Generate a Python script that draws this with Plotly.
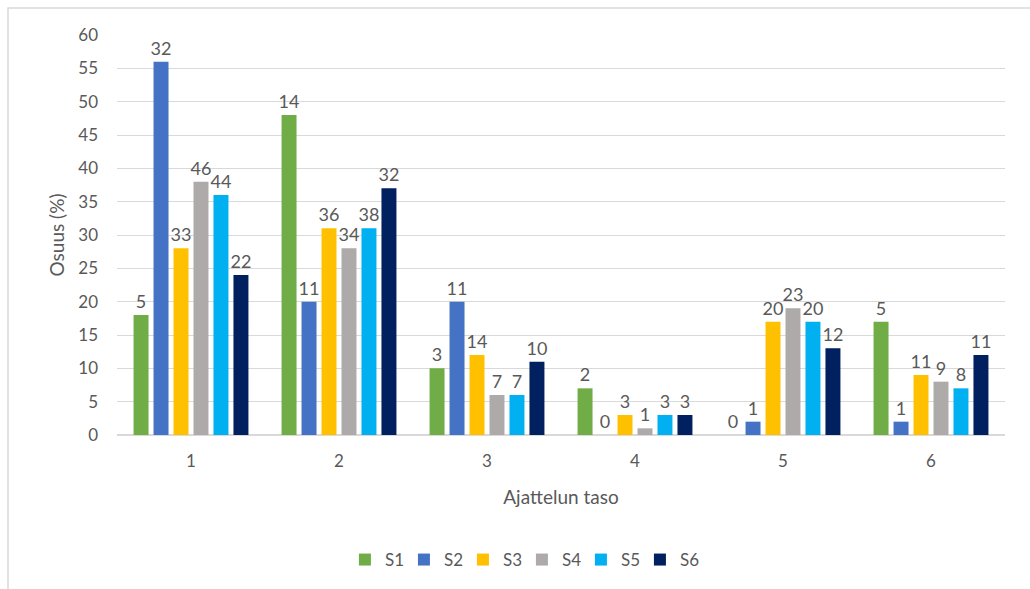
import plotly.graph_objects as go

# Ajattelun taso (level of thinking) categories
levels = ["1", "2", "3", "4", "5", "6"]
series_names = ["S1", "S2", "S3", "S4", "S5", "S6"]

# Share of answers per level (%), one list per series
share_s1 = [18, 48, 10, 7, 0, 17]
share_s2 = [56, 20, 20, 0, 2, 2]
share_s3 = [28, 31, 12, 3, 17, 9]
share_s4 = [38, 28, 6, 1, 19, 8]
share_s5 = [36, 31, 6, 3, 17, 7]
share_s6 = [24, 37, 11, 3, 13, 12]

# Number of answers per level, shown as bar labels
count_s1 = [5, 14, 3, 2, 0, 5]
count_s2 = [32, 11, 11, 0, 1, 1]
count_s3 = [33, 36, 14, 3, 20, 11]
count_s4 = [46, 34, 7, 1, 23, 9]
count_s5 = [44, 38, 7, 3, 20, 8]
count_s6 = [22, 32, 10, 3, 12, 11]

y_ticks = list(range(0, 61, 5))

shares = [share_s1, share_s2, share_s3, share_s4, share_s5, share_s6]
counts = [count_s1, count_s2, count_s3, count_s4, count_s5, count_s6]
colors = ["#70AD47", "#4472C4", "#FFC000", "#ADAAA9", "#00B0F0", "#002060"]

FONT = "Lato, 'Open Sans', sans-serif"
TEXT = "#595959"

fig = go.Figure()
for name, sh, cnt, col in zip(series_names, shares, counts, colors):
    fig.add_trace(go.Bar(
        name=name, x=levels, y=sh,
        text=[str(c) for c in cnt],
        textposition="outside",
        constraintext="none",
        cliponaxis=False,
        textfont=dict(family=FONT, size=18, color=TEXT),
        marker=dict(color=col, line=dict(width=0)),
    ))

W, H = 1030, 589
ml, mr, mt, mb = 117, 25, 35, 153
pw, ph = W - ml - mr, H - mt - mb

def px_to_paper_x(px):
    return (px - ml) / pw

def px_to_paper_y(py):
    return (H - mb - py) / ph

fig.update_layout(
    width=W, height=H,
    margin=dict(l=ml, r=mr, t=mt, b=mb),
    paper_bgcolor="white", plot_bgcolor="white",
    barmode="group", bargap=0.19, bargroupgap=0.25,
    font=dict(family=FONT, size=17, color=TEXT),
    showlegend=True,
    legend=dict(
        orientation="h",
        x=0.456, xanchor="center",
        y=px_to_paper_y(560), yanchor="middle",
        font=dict(family=FONT, size=17, color=TEXT),
        itemsizing="constant",
        entrywidth=14, entrywidthmode="pixels",
    ),
    xaxis=dict(
        type="category",
        showgrid=False, showline=False, ticks="",
        ticklabelstandoff=14,
        tickfont=dict(family=FONT, size=17, color=TEXT),
        title=dict(text="Ajattelun taso", font=dict(family=FONT, size=19, color=TEXT), standoff=20),
    ),
    yaxis=dict(
        range=[0, 60], tickvals=y_ticks,
        showgrid=True, gridcolor="#D9D9D9", gridwidth=1,
        zeroline=True, zerolinecolor="#D9D9D9", zerolinewidth=1.5,
        showline=False, ticks="",
        ticklabelstandoff=18,
        tickfont=dict(family=FONT, size=17, color=TEXT),
        title=dict(text="Osuus (%)", font=dict(family=FONT, size=19, color=TEXT), standoff=8),
    ),
    shapes=[dict(
        type="rect", xref="paper", yref="paper", layer="below",
        x0=px_to_paper_x(8), x1=px_to_paper_x(1060),
        y0=px_to_paper_y(620), y1=px_to_paper_y(8),
        line=dict(color="#D9D9D9", width=1.5), fillcolor="rgba(0,0,0,0)",
    )],
)

fig.write_html("out.html")
